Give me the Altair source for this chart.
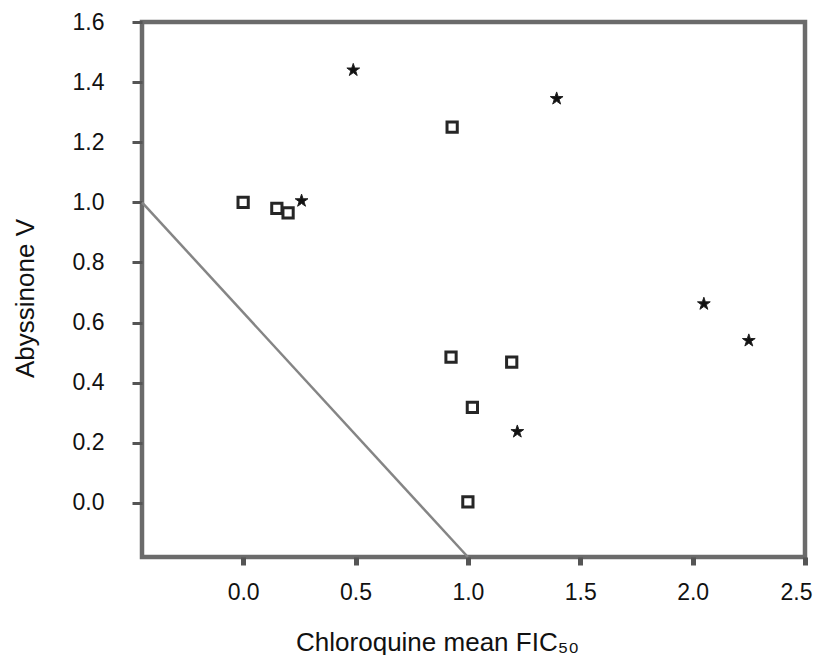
import altair as alt
import pandas as pd

# --- data ---
square_x = [0.0, 0.15, 0.20, 0.93, 0.925, 1.195, 1.02, 1.0]
square_y = [1.00, 0.98, 0.965, 1.25, 0.485, 0.468, 0.318, 0.003]

star_x = [0.26, 0.49, 1.395, 1.22, 2.05, 2.25]
star_y = [1.005, 1.44, 1.345, 0.237, 0.662, 0.54]

line_x = [-0.45, 1.0]
line_y = [1.0, -0.18]

x_ticks = [0.0, 0.5, 1.0, 1.5, 2.0, 2.5]
y_ticks = [0.0, 0.2, 0.4, 0.6, 0.8, 1.0, 1.2, 1.4, 1.6]

x_domain = [-0.45, 2.5]
y_domain = [-0.18, 1.6]

FONT = "Liberation Sans"
STAR = ("M0,-1 L0.2245,-0.309 L0.951,-0.309 L0.363,0.118 L0.588,0.809 "
        "L0,0.382 L-0.588,0.809 L-0.363,0.118 L-0.951,-0.309 L-0.2245,-0.309 Z")

sq_df = pd.DataFrame({"x": square_x, "y": square_y})
st_df = pd.DataFrame({"x": star_x, "y": star_y})
ln_df = pd.DataFrame({"x": line_x, "y": line_y})

xscale = alt.Scale(domain=x_domain, nice=False, zero=False)
yscale = alt.Scale(domain=y_domain, nice=False, zero=False)

xaxis = alt.Axis(
    values=x_ticks, format=".1f", title="Chloroquine mean FIC₅₀",
    grid=False, domain=False, ticks=True, tickSize=8, tickWidth=5,
    tickColor="#555555", labelFontSize=23, labelFont=FONT, labelColor="#111111",
    labelPadding=16, titleFontSize=26, titleFont=FONT, titleFontWeight="normal",
    titleColor="#111111", titleX=295, titleY=93, titleBaseline="alphabetic",
    titleAlign="center", labelFlush=True, labelFlushOffset=7,
)
yaxis = alt.Axis(
    values=y_ticks, format=".1f", title="Abyssinone V",
    grid=False, domain=False, ticks=True, tickSize=10, tickWidth=3,
    tickColor="#555555", labelFontSize=23, labelFont=FONT, labelColor="#111111",
    labelPadding=28, titleFontSize=26, titleFont=FONT, titleFontWeight="normal",
    titleColor="#111111", titleX=-109, titleY=276, titleBaseline="alphabetic",
    titleAlign="center", titleAngle=270, labelFlush=False,
)

line = alt.Chart(ln_df).mark_line(color="#858585", strokeWidth=2.5).encode(
    x=alt.X("x:Q", scale=xscale, axis=xaxis),
    y=alt.Y("y:Q", scale=yscale, axis=yaxis),
)

squares = alt.Chart(sq_df).mark_point(
    shape="square", filled=False, size=105, stroke="#262626", strokeWidth=3,
    opacity=1,
).encode(x="x:Q", y="y:Q")

stars = alt.Chart(st_df).mark_point(
    shape=STAR, filled=True, size=180, color="#111111", opacity=1,
    stroke="#222222", strokeWidth=1,
).encode(x="x:Q", y="y:Q")

chart = alt.layer(line, squares, stars).properties(
    width=663, height=535,
    autosize=alt.AutoSizeParams(type="none"),
    padding={"left": 134, "top": 14, "right": 9, "bottom": 98},
    background="white",
).configure_view(stroke="#6b6b6b", strokeWidth=4.5)

chart.save("out.html", embed_options={"renderer": "svg", "actions": False})
